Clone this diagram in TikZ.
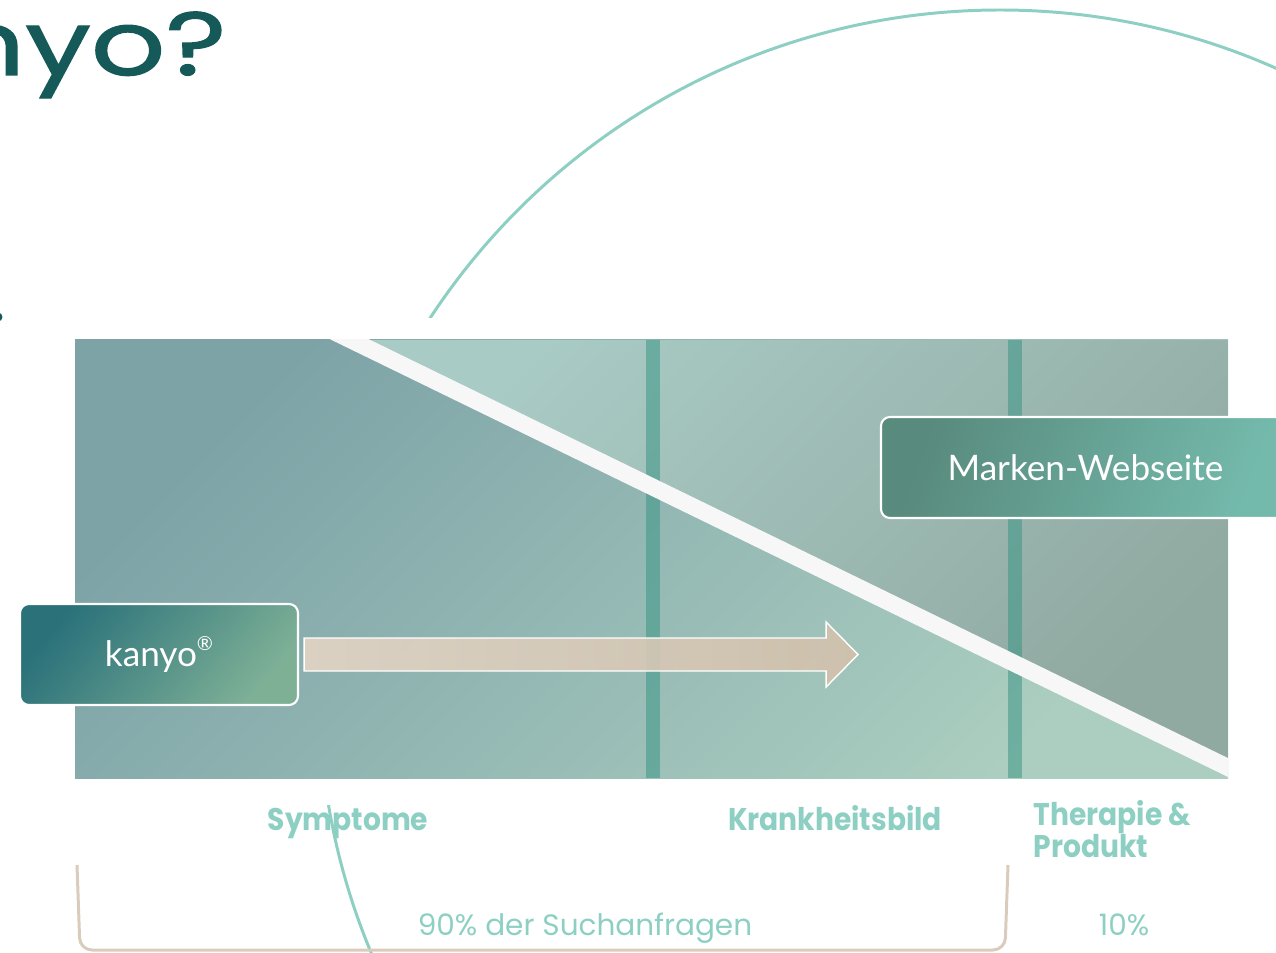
\documentclass[tikz,border=0pt]{standalone}
\usepackage{fontspec}
\usepackage{tikz}
\usetikzlibrary{positioning}
\usetikzlibrary{calc}
\newfontfamily\titlefont{Poppins}[FakeBold=1.2]
\newfontfamily\labelfont{Poppins}
\newcommand{\narrow}[1]{\scalebox{0.9}[1]{#1}}
\newfontfamily\boxfont{Lato}
\definecolor{kteal}{HTML}{155A58}
\definecolor{kmint}{HTML}{8DD0C3}
\definecolor{ksand}{HTML}{D9CCBC}
\definecolor{kcol}{HTML}{3C9687}
\definecolor{kband}{HTML}{F7F7F7}
\tikzset{every picture/.style={line width=0.85pt},
  phase/.style={text=kmint, inner sep=0, anchor=base, font=\labelfont\bfseries\fontsize{8.9}{9.1}\selectfont},
  share/.style={text=kmint, inner sep=0, anchor=base, font=\labelfont\fontsize{8.4}{10}\selectfont},
  site/.style={draw=white, line width=0.6pt, rounded corners=0.09cm, text=white, minimum height=1.01cm, font=\boxfont\fontsize{10}{12}\selectfont},
  column/.style={fill=kcol, fill opacity=0.55, draw=none}}

\begin{document}
\begin{tikzpicture}
\useasboundingbox (0,0) rectangle (12.76,-9.53);
\draw[kmint] (10,-6.91) circle (6.81);
\fill[white] (-0.1,-3.18) rectangle (12.9,-8.05);
\node (title) [anchor=base east, text=kteal, inner sep=0, font=\titlefont\fontsize{25.5}{30}\selectfont] at (2.28,-0.75) {\scalebox{1.3}[1]{nyo?}};
\fill[kteal] (-0.02,-3.17) circle (0.045);

\shade[top color={rgb,255:red,126;green,163;blue,167}, bottom color={rgb,255:red,171;green,206;blue,192}, shading angle=45] (0.75,-3.40) rectangle (12.28,-7.78);
\begin{scope}
\clip (3.51,-3.40) -- (12.28,-3.40) -- (12.28,-7.675) -- cycle;
\shade[top color={rgb,255:red,169;green,203;blue,197}, bottom color={rgb,255:red,144;green,169;blue,161}, shading angle=45] (3.51,-3.40) rectangle (12.28,-7.675);
\end{scope}
\fill[column] (6.46,-3.40) rectangle (6.60,-7.78);
\fill[column] (10.08,-3.40) rectangle (10.22,-7.78);
\begin{scope}
\clip (0.75,-3.40) rectangle (12.28,-7.78);
\draw[line width=0.17cm, kband] (3.10,-3.20) -- (12.70,-7.88);
\end{scope}

\node (kanyo) [site, minimum width=2.78cm, top color={rgb,255:red,42;green,113;blue,122}, bottom color={rgb,255:red,126;green,176;blue,150}, shading angle=50] at (1.59,-6.545) {kanyo\raisebox{0.9ex}{\fontsize{5.5}{6}\selectfont\textregistered}};
\node (marke) [site, minimum width=4.09cm, top color={rgb,255:red,88;green,138;blue,125}, bottom color={rgb,255:red,116;green,186;blue,172}, shading angle=70] at (10.855,-4.675) {Marken-Webseite};

\shadedraw[left color={rgb,255:red,227;green,213;blue,198}, right color={rgb,255:red,210;green,193;blue,172}, draw=white, line width=0.4pt, fill opacity=0.9]
  ($(kanyo.east)+(0.05,0.165)$) -- ++(5.22,0) -- ++(0,0.16) -- ++(0.32,-0.325) -- ++(-0.32,-0.325) -- ++(0,0.16) -- ++(-5.22,0) -- cycle;

\node (sym) [phase] at (3.48,-8.30) {\narrow{Symptome}};
\node (krank) [phase] at ($(sym.base)+(4.87,0)$) {\narrow{Krankheitsbild}};
\node (thera) [phase, anchor=base west, align=left] at (10.32,-8.57) {\narrow{Therapie \&}\\\narrow{Produkt}};
\draw[ksand, rounded corners=0.12cm] (0.77,-8.65) -- (0.80,-9.50) -- (10.05,-9.50) -- (10.08,-8.65);
\node (ninety) [share] at (5.85,-9.35) {90\% der Suchanfragen};
\node (ten) [share] at ($(ninety.base)+(5.39,0)$) {10\%};
\end{tikzpicture}
\end{document}
